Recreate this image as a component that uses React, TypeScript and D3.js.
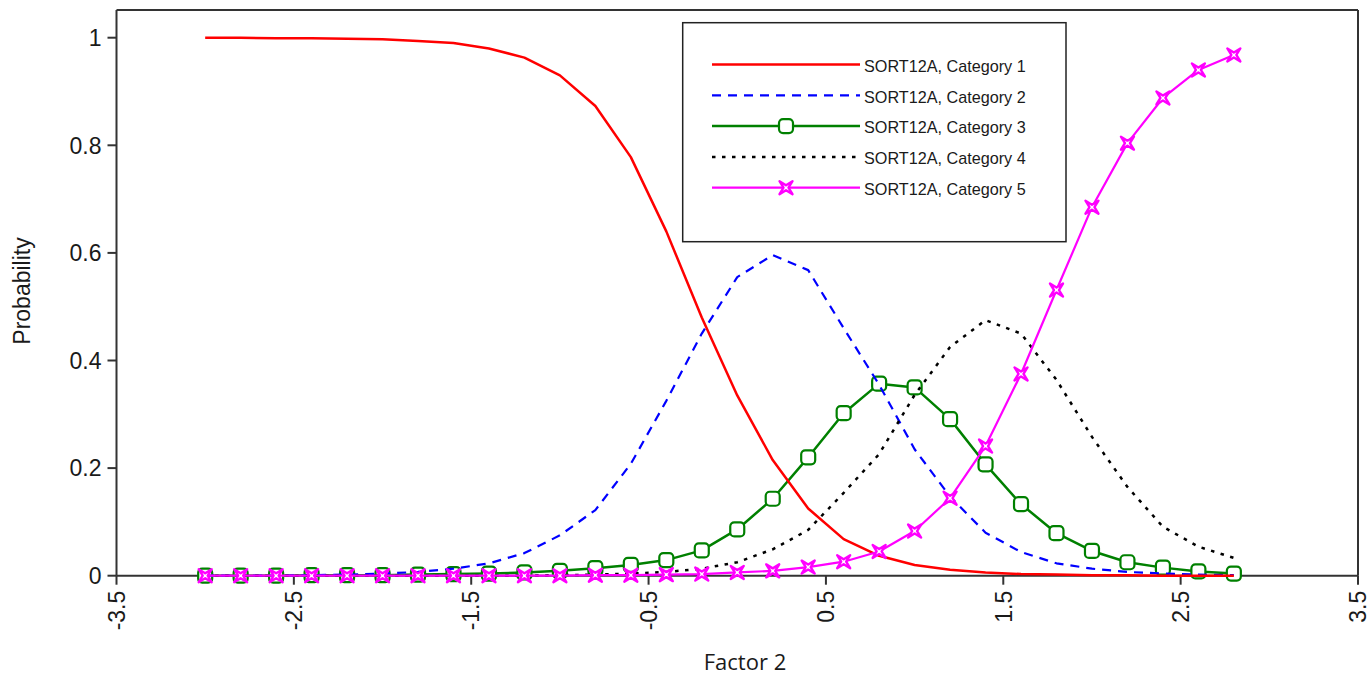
import React from "react";
import * as d3 from "d3";

const xValues = [-3, -2.8, -2.6, -2.4, -2.2, -2, -1.8, -1.6, -1.4, -1.2, -1, -0.8, -0.6, -0.4, -0.2, 0, 0.2, 0.4, 0.6, 0.8, 1, 1.2, 1.4, 1.6, 1.8, 2, 2.2, 2.4, 2.6, 2.8];

const category1 = [1.0, 1.0, 0.999, 0.999, 0.998, 0.997, 0.994, 0.99, 0.98, 0.963, 0.93, 0.873, 0.778, 0.64, 0.48, 0.335, 0.215, 0.125, 0.068, 0.037, 0.02, 0.011, 0.006, 0.003, 0.002, 0.001, 0.001, 0, 0, 0];
const category2 = [0, 0, 0, 0.001, 0.002, 0.004, 0.007, 0.013, 0.023, 0.042, 0.075, 0.122, 0.208, 0.325, 0.45, 0.555, 0.596, 0.568, 0.46, 0.355, 0.235, 0.147, 0.08, 0.044, 0.023, 0.013, 0.007, 0.004, 0.002, 0.001];
const category3 = [0, 0, 0, 0.001, 0.001, 0.001, 0.002, 0.003, 0.004, 0.006, 0.009, 0.014, 0.02, 0.029, 0.047, 0.086, 0.143, 0.22, 0.302, 0.357, 0.35, 0.291, 0.207, 0.133, 0.079, 0.046, 0.025, 0.015, 0.008, 0.004];
const category4 = [0, 0, 0, 0, 0, 0, 0, 0, 0, 0, 0.001, 0.002, 0.004, 0.007, 0.013, 0.025, 0.049, 0.085, 0.154, 0.226, 0.336, 0.425, 0.475, 0.45, 0.364, 0.258, 0.165, 0.091, 0.054, 0.033];
const category5 = [0, 0, 0, 0, 0, 0, 0, 0, 0, 0, 0, 0.001, 0.001, 0.002, 0.003, 0.006, 0.009, 0.016, 0.026, 0.045, 0.083, 0.144, 0.241, 0.375, 0.531, 0.685, 0.804, 0.888, 0.94, 0.968];

const xTicks = [-3.5, -2.5, -1.5, -0.5, 0.5, 1.5, 2.5, 3.5];
const yTicks = [0, 0.2, 0.4, 0.6, 0.8, 1];

const seriesNames = [
  "SORT12A, Category 1",
  "SORT12A, Category 2",
  "SORT12A, Category 3",
  "SORT12A, Category 4",
  "SORT12A, Category 5",
];

type Style = { color: string; width: number; dash?: string; marker?: "square" | "star" };
const styles: Style[] = [
  { color: "#FF0000", width: 2.5 },
  { color: "#0000FF", width: 2.2, dash: "9,7" },
  { color: "#008000", width: 2.5, marker: "square" },
  { color: "#000000", width: 2.5, dash: "3.5,6.5" },
  { color: "#FF00FF", width: 2.2, marker: "star" },
];

const allSeries = [category1, category2, category3, category4, category5];
const drawOrder = [2, 1, 0, 3, 4];

const FONT = "'Liberation Sans', Arial, sans-serif";

function Marker({ kind, x, y, color }: { kind: string; x: number; y: number; color: string }) {
  if (kind === "square") {
    return (
      <rect x={x - 7} y={y - 7} width={14} height={14} rx={4} ry={4}
        fill="#fff" stroke={color} strokeWidth={2.2} />
    );
  }
  const s = 6.5, n = 2.5;
  const p = `M${x - s},${y - s} L${x},${y - n} L${x + s},${y - s} L${x + n},${y} L${x + s},${y + s} L${x},${y + n} L${x - s},${y + s} L${x - n},${y} Z`;
  return <path d={p} fill="#fff" stroke={color} strokeWidth={2.4} strokeLinejoin="round" />;
}

export default function App() {
  const left = 116.5, right = 1358, top = 10, bottom = 575.7;
  const x = d3.scaleLinear().domain([-3.5, 3.5]).range([left, right]);
  const y = d3.scaleLinear().domain([0, 1]).range([bottom, bottom - 538]);
  const line = d3.line<number>().x((_, i) => x(xValues[i])).y((d) => y(d));

  const lgX0 = 712, lgX1 = 860, lgY0 = 64.5, lgStep = 30.8;

  return (
    <svg width={1370} height={675} style={{ position: "absolute", left: 0, top: 0, background: "#fff" }}
      fontFamily={FONT}>
      <rect x={0} y={0} width={1370} height={675} fill="#fff" />
      {/* frame */}
      <line x1={left} y1={top} x2={right} y2={top} stroke="#333" strokeWidth={2} />
      <line x1={right} y1={top} x2={right} y2={bottom} stroke="#333" strokeWidth={2} />
      {/* axes */}
      <line x1={left} y1={top} x2={left} y2={bottom} stroke="#333" strokeWidth={2} />
      <line x1={left} y1={bottom} x2={right} y2={bottom} stroke="#333" strokeWidth={2} />
      {yTicks.map((t) => (
        <g key={"y" + t}>
          <line x1={left - 9} x2={left} y1={y(t)} y2={y(t)} stroke="#333" strokeWidth={2} />
          <text x={left - 15} y={y(t)} dy="0.36em" textAnchor="end" fontSize={23} fill="#1a1a1a">
            {String(t)}
          </text>
        </g>
      ))}
      {xTicks.map((t) => (
        <g key={"x" + t}>
          <line x1={x(t)} x2={x(t)} y1={bottom} y2={bottom + 9} stroke="#333" strokeWidth={2} />
          <text transform={`translate(${x(t)},${bottom + 15}) rotate(-90)`} dy="0.36em"
            textAnchor="end" fontSize={23} fill="#1a1a1a">
            {String(t)}
          </text>
        </g>
      ))}
      <text transform={`translate(22,291) rotate(-90)`} dy="0.36em" textAnchor="middle" fontSize={23} fill="#1a1a1a">
        Probability
      </text>
      <text x={745} y={662} dy="0.36em" textAnchor="middle" fontSize={22} fill="#1a1a1a"
        fontFamily="'Open Sans', sans-serif">
        Factor 2
      </text>

      {/* series */}
      {drawOrder.map((si) => {
        const st = styles[si];
        const data = allSeries[si];
        return (
          <g key={"s" + si}>
            <path d={line(data) || ""} fill="none" stroke={st.color} strokeWidth={st.width}
              strokeDasharray={st.dash} strokeLinejoin="round" />
            {st.marker &&
              data.map((v, i) => (
                <Marker key={i} kind={st.marker!} x={x(xValues[i])} y={y(v)} color={st.color} />
              ))}
          </g>
        );
      })}

      {/* legend */}
      <rect x={682.7} y={22.7} width={383.3} height={219} fill="#fff" stroke="#222" strokeWidth={1.5} />
      {seriesNames.map((name, i) => {
        const st = styles[i];
        const ly = lgY0 + i * lgStep;
        return (
          <g key={"l" + i}>
            <line x1={lgX0} x2={lgX1} y1={ly} y2={ly} stroke={st.color} strokeWidth={st.width}
              strokeDasharray={st.dash} />
            {st.marker && <Marker kind={st.marker} x={786} y={ly} color={st.color} />}
            <text x={864} y={ly + 1.5} dy="0.36em" fontSize={16.2} fill="#1a1a1a">
              {name}
            </text>
          </g>
        );
      })}
    </svg>
  );
}
